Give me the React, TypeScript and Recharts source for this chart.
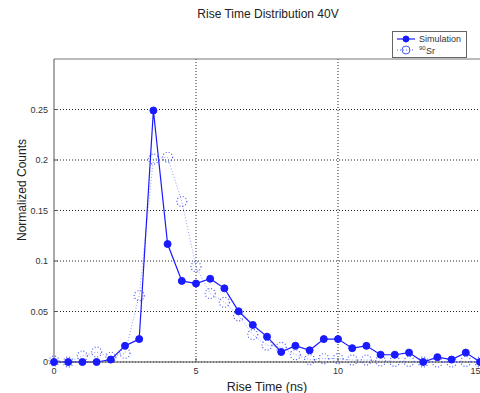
import React from "react";
import {
  LineChart,
  Line,
  XAxis,
  YAxis,
  CartesianGrid,
  ReferenceLine,
  Legend,
  Label,
} from "recharts";

// rise time bins (ns)
const riseTime = [
  0, 0.5, 1, 1.5, 2, 2.5, 3, 3.5, 4, 4.5, 5, 5.5, 6, 6.5, 7, 7.5, 8, 8.5, 9,
  9.5, 10, 10.5, 11, 11.5, 12, 12.5, 13, 13.5, 14, 14.5, 15,
];

const simulation = [
  0, 0, 0, 0, 0.0024, 0.016, 0.0227, 0.249, 0.1168, 0.0803, 0.0777, 0.0824,
  0.0729, 0.0502, 0.0367, 0.0251, 0.0099, 0.0161, 0.0116, 0.0227, 0.0227,
  0.0137, 0.016, 0.0072, 0.0072, 0.0093, 0, 0.0048, 0.0024, 0.0093, 0,
];

const sr90 = [
  0.001, 0, 0.006, 0.0099, 0.0048, 0.0087, 0.0657, 0.201, 0.2028, 0.159,
  0.0944, 0.0678, 0.0591, 0.0457, 0.0272, 0.0167, 0.0146, 0.0072, 0.0024,
  0.0033, 0.0033, 0.002, 0.002, 0.001, 0.0006, 0.0006, 0, 0, 0, 0.0006, 0,
];

const xTicks = [0, 5, 10, 15];
const yTicks = [0, 0.05, 0.1, 0.15, 0.2, 0.25];

const data = riseTime.map((t, i) => ({ t, sim: simulation[i], sr: sr90[i] }));

const font = "'Liberation Sans', Arial, sans-serif";
const simColor = "#1a1aff";
const srColor = "#4a5cf0";

const LegendBox = () => (
  <svg width={76} height={28}>
    <rect x={0.5} y={0.5} width={74} height={26} fill="#fff" stroke="#666" />
    <line x1={5} y1={8} x2={23} y2={8} stroke={simColor} strokeWidth={1.2} />
    <circle cx={14} cy={8} r={3} fill={simColor} stroke={simColor} />
    <line x1={5} y1={19} x2={23} y2={19} stroke={srColor} strokeDasharray="1 2" />
    <circle cx={14} cy={19} r={4} fill="none" stroke={srColor} />
    <text x={27} y={11} fontSize={9} fill="#333" fontFamily={font}>
      Simulation
    </text>
    <text x={27} y={19} fontSize={6} fill="#333" fontFamily={font}>
      90
    </text>
    <text x={34} y={23} fontSize={9} fill="#333" fontFamily={font}>
      Sr
    </text>
  </svg>
);

export default function App() {
  return (
    <div style={{ position: "absolute", left: 0, top: 0, width: 480, height: 393, background: "#fff" }}>
      <LineChart
        width={480}
        height={393}
        data={data}
        margin={{ top: 27, right: 0, bottom: 11, left: 0 }}
      >
        <CartesianGrid
          stroke="#222"
          strokeDasharray="1 2"
          horizontalValues={yTicks}
          verticalValues={[5, 10]}
        />
        <XAxis
          dataKey="t"
          type="number"
          domain={[0, 15]}
          ticks={xTicks}
          height={20}
          stroke="#555"
          tickSize={-4}
          tick={{ fill: "#333", fontSize: 9, fontFamily: font, dy: 8 }}
        >
          <Label
            value="Rise Time (ns)"
            position="insideBottom"
            offset={-9}
            style={{ fontSize: 12.5, fill: "#222", fontFamily: font }}
          />
        </XAxis>
        <YAxis
          type="number"
          domain={[0, 0.3]}
          ticks={yTicks}
          width={54}
          stroke="#555"
          tickSize={-4}
          tickFormatter={(v: number) => String(v)}
          tick={{ fill: "#333", fontSize: 9, fontFamily: font, dx: -8 }}
        />
        <ReferenceLine y={0.3} stroke="#777" strokeWidth={1} />
        <text
          x={268}
          y={18}
          textAnchor="middle"
          fontSize={12}
          fill="#222"
          fontFamily={font}
        >
          Rise Time Distribution 40V
        </text>
        <text
          x={26}
          y={190}
          transform="rotate(-90 26 190)"
          textAnchor="middle"
          fontSize={12}
          fill="#222"
          fontFamily={font}
        >
          Normalized Counts
        </text>
        <Legend
          verticalAlign="top"
          align="right"
          wrapperStyle={{ position: "absolute", top: 31, left: 392, width: 76 }}
          content={() => <LegendBox />}
        />
        <Line
          dataKey="sr"
          stroke={srColor}
          strokeOpacity={0.6}
          strokeDasharray="1 2"
          strokeWidth={1}
          dot={{ r: 5, fill: "none", stroke: srColor, strokeWidth: 1.2, strokeOpacity: 1 }}
          isAnimationActive={false}
        />
        <Line
          dataKey="sim"
          stroke={simColor}
          strokeWidth={1.2}
          dot={{ r: 3.5, fill: simColor, stroke: simColor, strokeWidth: 1 }}
          isAnimationActive={false}
        />
      </LineChart>
    </div>
  );
}
